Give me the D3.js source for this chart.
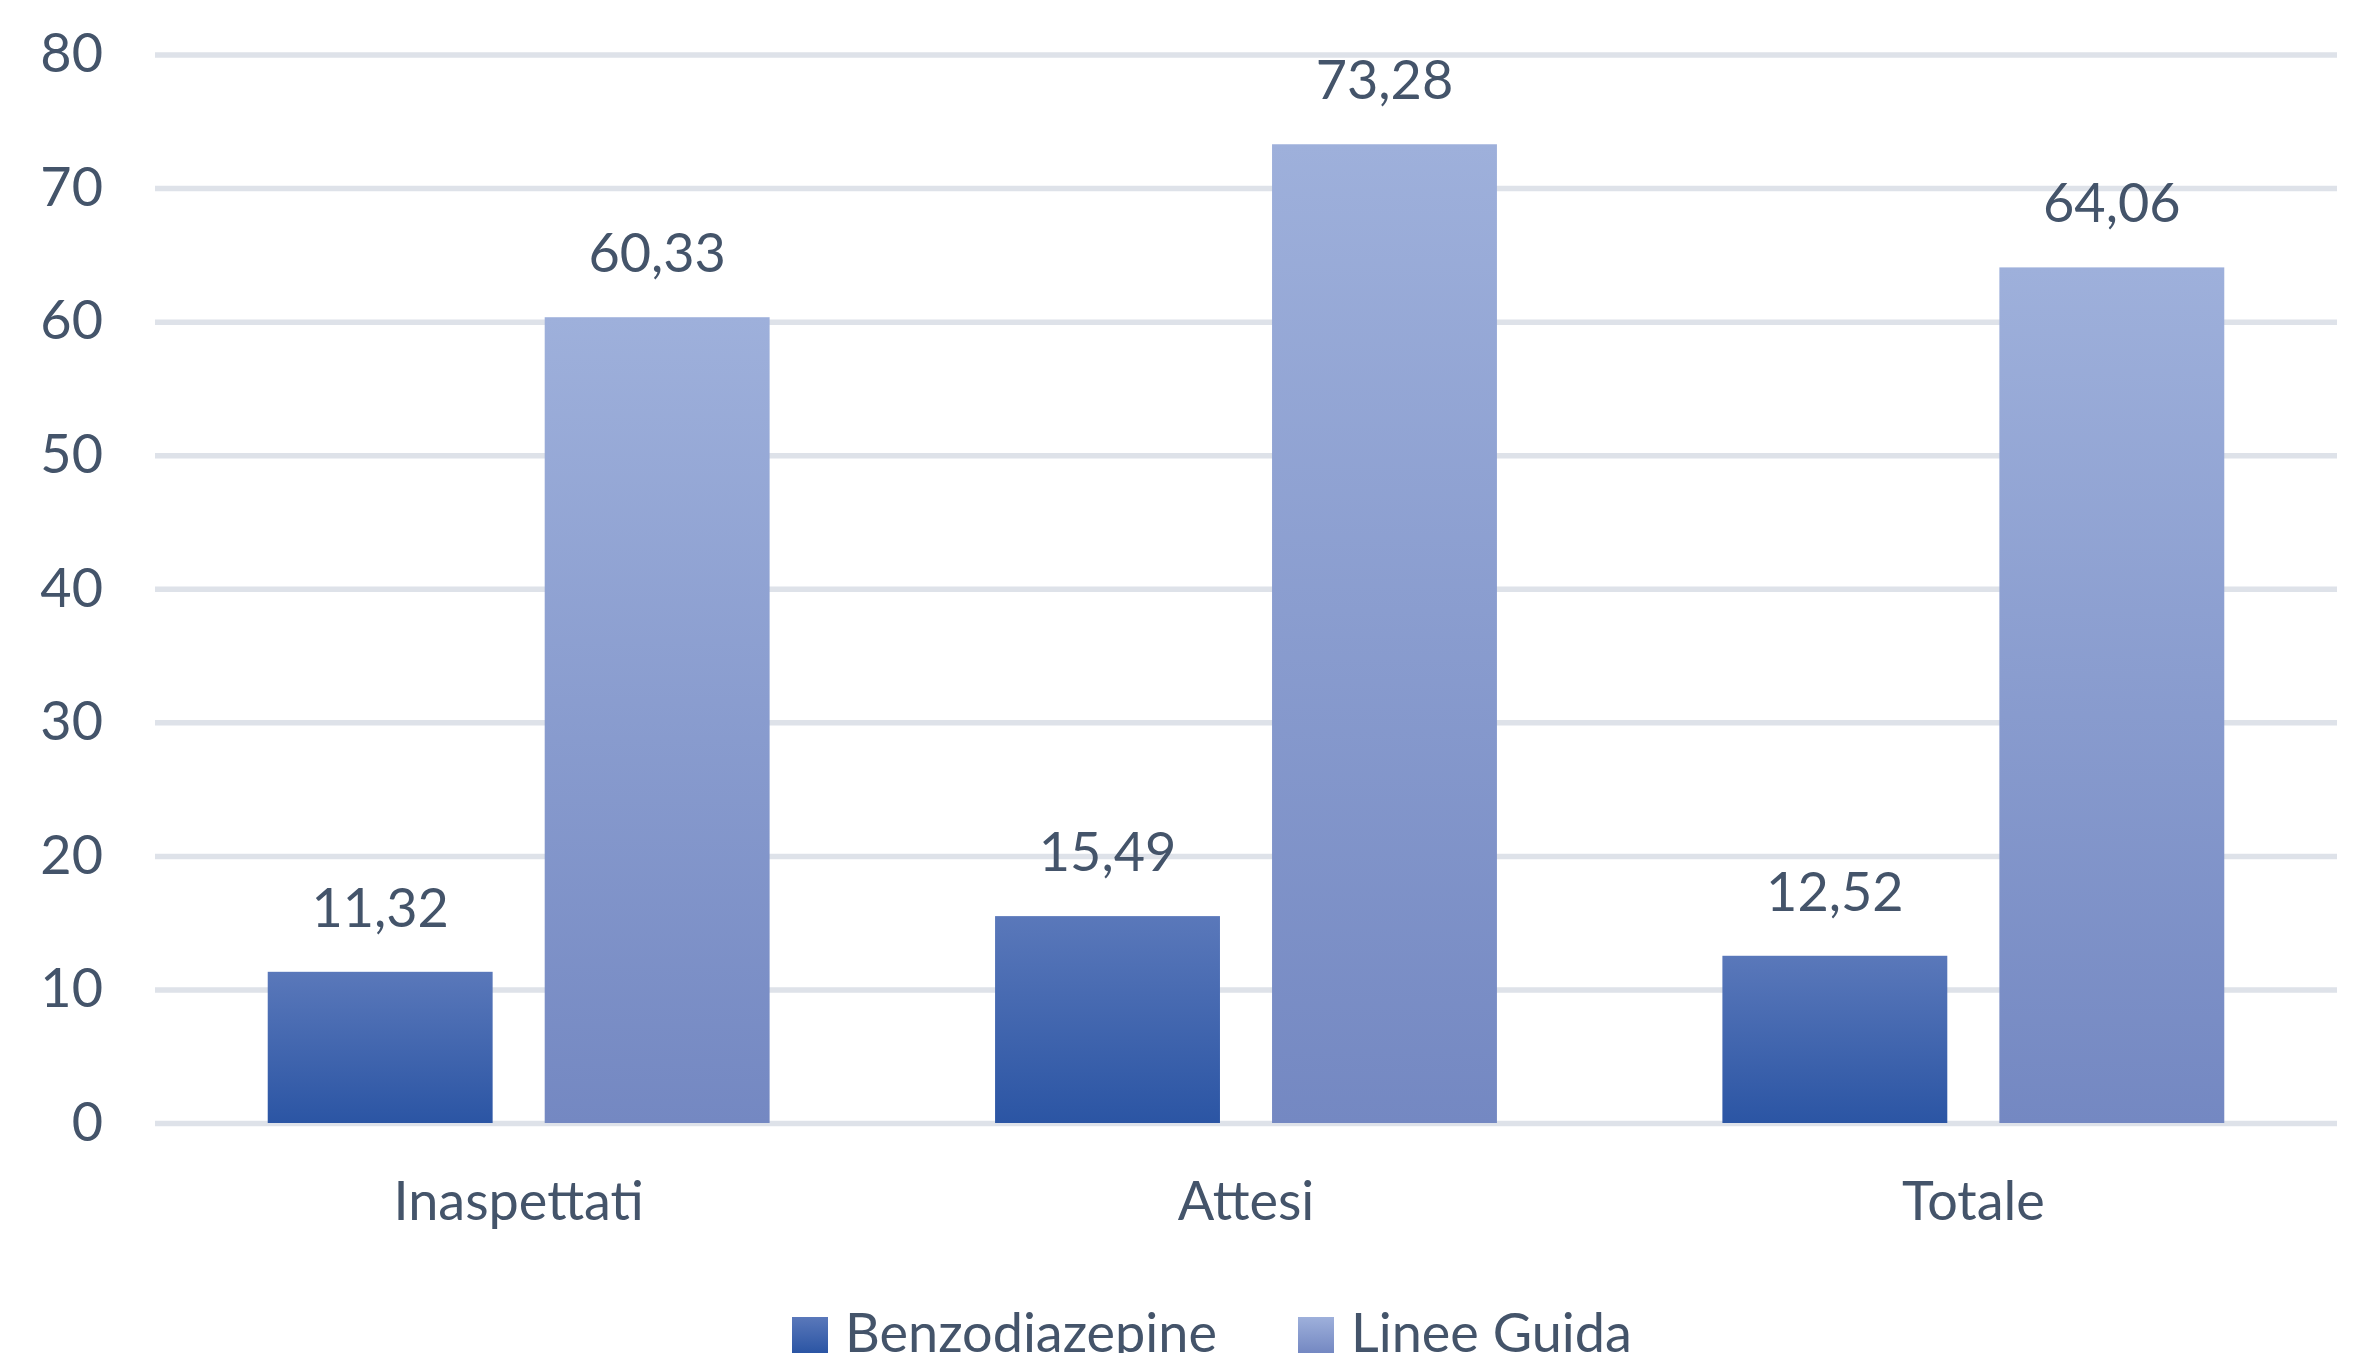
<!DOCTYPE html>
<html>
<head>
<meta charset="utf-8">
<script src="https://cdn.jsdelivr.net/npm/d3@7"></script>
<style>
  body { margin: 0; background: #fff; }
  text { font-family: Lato, 'Open Sans', sans-serif; fill: #44546a; }
</style>
</head>
<body>
<div id="chart"></div>
<script>
const categories = ['Inaspettati', 'Attesi', 'Totale']
const series = ['Benzodiazepine', 'Linee Guida']
const benzodiazepine = [11.32, 15.49, 12.52]
const lineeGuida = [60.33, 73.28, 64.06]
const yTicks = [0, 10, 20, 30, 40, 50, 60, 70, 80]

const W = 2362
const H = 1353
const plot = { left: 155, right: 2337, top: 54.5, bottom: 1123 }
const fontSize = 54

const colors = {
  Benzodiazepine: ['#5a78ba', '#2b55a4'],
  'Linee Guida': ['#9eb0db', '#7488c2']
}

const rows = categories.map((c, i) => ({
  category: c,
  values: [
    { key: 'Benzodiazepine', value: benzodiazepine[i] },
    { key: 'Linee Guida', value: lineeGuida[i] }
  ]
}))

const it = d3.formatLocale({ decimal: ',', thousands: '.', grouping: [3], currency: ['€', ''] })
const fmt = it.format('.2f')

const svg = d3.select('#chart').append('svg')
  .attr('width', W)
  .attr('height', H)

const defs = svg.append('defs')
series.forEach((s, i) => {
  const g = defs.append('linearGradient')
    .attr('id', 'grad' + i)
    .attr('x1', 0).attr('y1', 0).attr('x2', 0).attr('y2', 1)
  g.append('stop').attr('offset', '0%').attr('stop-color', colors[s][0])
  g.append('stop').attr('offset', '100%').attr('stop-color', colors[s][1])
})

const y = d3.scaleLinear().domain([0, 80]).range([plot.bottom, plot.top])
const x0 = d3.scaleBand().domain(categories).range([plot.left, plot.right]).padding(0)
const x1 = d3.scaleBand().domain(series).range([0, x0.bandwidth()])
  .paddingInner(0.188).paddingOuter(0.407)

// gridlines + y labels
const yAxis = svg.append('g')
  .attr('transform', `translate(${plot.left},0)`)
  .call(d3.axisLeft(y).tickValues(yTicks).tickSize(-(plot.right - plot.left)).tickPadding(52))
yAxis.select('.domain').remove()
yAxis.selectAll('.tick line').attr('stroke', '#dee2e9').attr('stroke-width', 5.5)
yAxis.selectAll('.tick text')
  .attr('font-size', fontSize)
  .attr('font-family', null)
  .attr('fill', '#44546a')

// bars
const groups = svg.selectAll('.cat')
  .data(rows)
  .enter()
  .append('g')
  .attr('class', 'cat')
  .attr('transform', d => `translate(${x0(d.category)},0)`)

groups.selectAll('rect')
  .data(d => d.values)
  .enter()
  .append('rect')
  .attr('x', d => x1(d.key))
  .attr('width', x1.bandwidth())
  .attr('y', d => y(d.value))
  .attr('height', d => y(0) - y(d.value))
  .attr('fill', d => `url(#grad${series.indexOf(d.key)})`)

groups.selectAll('.lbl')
  .data(d => d.values)
  .enter()
  .append('text')
  .attr('class', 'lbl')
  .attr('x', d => x1(d.key) + x1.bandwidth() / 2)
  .attr('y', d => y(d.value) - 45)
  .attr('text-anchor', 'middle')
  .attr('font-size', fontSize)
  .text(d => fmt(d.value))

// x labels
const xAxis = svg.append('g')
  .attr('transform', `translate(0,${plot.bottom})`)
  .call(d3.axisBottom(x0).tickSize(0).tickPadding(0))
xAxis.select('.domain').remove()
xAxis.selectAll('.tick text')
  .attr('font-size', fontSize)
  .attr('font-family', null)
  .attr('fill', '#44546a')
  .attr('dy', null)
  .attr('y', 97)

// legend
const legendX = [792, 1298]
const legend = svg.selectAll('.legend')
  .data(series)
  .enter()
  .append('g')
  .attr('class', 'legend')
  .attr('transform', (d, i) => `translate(${legendX[i]},1317)`)
legend.append('rect')
  .attr('width', 36)
  .attr('height', 36)
  .attr('fill', (d, i) => `url(#grad${i})`)
legend.append('text')
  .attr('x', 53)
  .attr('y', 35)
  .attr('font-size', fontSize)
  .text(d => d)
</script>
</body>
</html>
